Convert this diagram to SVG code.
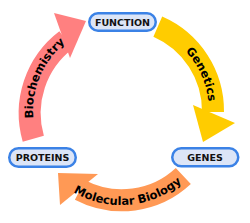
<svg xmlns="http://www.w3.org/2000/svg" width="250" height="223" viewBox="0 0 250 223">
<style>
.band{fill:none;stroke-width:22;stroke-linecap:butt}
.lbl{font-family:"DejaVu Sans",Verdana,sans-serif;font-weight:bold;font-size:11.5px;fill:#000}
.node rect{fill:#dce5f7;stroke:#3b82e6;stroke-width:2.5}
.node text{font-family:"DejaVu Sans",Verdana,sans-serif;font-weight:bold;font-size:9.5px;fill:#111;text-anchor:middle}
</style>
<defs>
<path id="tBio" d="M 44.8 155 A 88 88 0 0 1 99.7 25.6"/>
<path id="tGen" d="M 165 34.8 A 88 88 0 0 1 207.4 127.8"/>
<path id="tMol" d="M 54.5 177.5 A 94 94 0 0 0 198 164.9"/>
</defs>
<g id="connectors">
<g id="biochemistry">
<path class="band" stroke="#ff8080" d="M 33.3 138.7 A 92 92 0 0 1 66 40"/>
<polygon fill="#ff8080" points="54,13 86,21 70,58"/>
<text class="lbl"><textPath href="#tBio" startOffset="50%" text-anchor="middle">Biochemistry</textPath></text>
</g>
<g id="genetics">
<path class="band" stroke="#ffcc00" d="M 157.8 26.7 A 92 92 0 0 1 213 112"/>
<polygon fill="#ffcc00" points="193,105 235,123 203,142"/>
<text class="lbl"><textPath href="#tGen" startOffset="50%" text-anchor="middle">Genetics</textPath></text>
</g>
<g id="molecular-biology">
<path class="band" stroke="#ff9955" d="M 183.3 176 A 90 90 0 0 1 80 190"/>
<polygon fill="#ff9955" points="98,174 58,173 60,205"/>
<text class="lbl"><textPath href="#tMol" startOffset="50%" text-anchor="middle">Molecular Biology</textPath></text>
</g>
</g>
<g id="function" class="node">
<rect x="89.25" y="13.25" width="66.5" height="17.5" rx="8.75"/>
<text x="122.5" y="25.5">FUNCTION</text>
</g>
<g id="proteins" class="node">
<rect x="9.25" y="148.25" width="66.5" height="18.5" rx="9.25"/>
<text x="42.5" y="161">PROTEINS</text>
</g>
<g id="genes" class="node">
<rect x="172.25" y="148.25" width="66" height="18" rx="9"/>
<text x="205" y="160.8">GENES</text>
</g>
</svg>
